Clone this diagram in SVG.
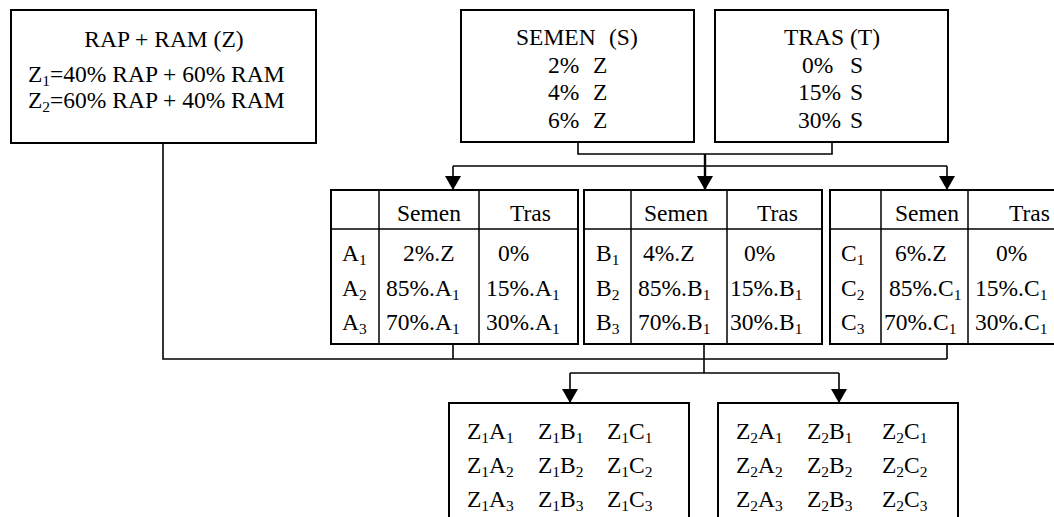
<svg xmlns="http://www.w3.org/2000/svg" width="1054" height="517" viewBox="0 0 1054 517">
<style>
  text { font-family: "Liberation Serif", "Times New Roman", serif; font-size: 23.5px; fill: #000; }
  .c { text-anchor: middle; }
  .sub { font-size: 15.5px; }
  .box { fill: #fff; stroke: #000; stroke-width: 2; }
  .in { stroke: #000; stroke-width: 1.5; fill: none; }
  .ln { stroke: #000; stroke-width: 1.6; fill: none; }
  .thick { stroke: #000; stroke-width: 2.4; fill: none; }
</style>
<defs>
  <marker id="arr" viewBox="0 0 14 16" refX="14" refY="8" markerWidth="14" markerHeight="16" markerUnits="userSpaceOnUse" orient="auto">
    <path d="M0,0 L14,8 L0,16 Z" fill="#000"/>
  </marker>
</defs>
<rect width="1054" height="517" fill="#fff"/>

<g id="connectors">
  <polyline class="ln" points="578,142 578,154 832,154 832,142"/>
  <line class="thick" x1="705" y1="154" x2="705" y2="190" marker-end="url(#arr)"/>
  <line class="ln" x1="453" y1="166" x2="947" y2="166"/>
  <line class="ln" x1="453" y1="166" x2="453" y2="190" marker-end="url(#arr)"/>
  <line class="ln" x1="947" y1="166" x2="947" y2="190" marker-end="url(#arr)"/>
  <polyline class="ln" points="163,143 163,359 947,359"/>
  <line class="ln" x1="453" y1="344" x2="453" y2="359"/>
  <line class="ln" x1="947" y1="344" x2="947" y2="359"/>
  <line class="ln" x1="704" y1="344" x2="704" y2="373"/>
  <line class="ln" x1="570" y1="373" x2="839" y2="373"/>
  <line class="ln" x1="570" y1="373" x2="570" y2="403" marker-end="url(#arr)"/>
  <line class="ln" x1="839" y1="373" x2="839" y2="403" marker-end="url(#arr)"/>
</g>

<g id="node-z">
  <rect class="box" x="11" y="10" width="305" height="133"/>
  <text class="c" x="164" y="47">RAP + RAM (Z)</text>
  <text x="28" y="82">Z<tspan class="sub" dy="4">1</tspan><tspan dy="-4">=40% RAP + 60% RAM</tspan></text>
  <text x="28" y="108">Z<tspan class="sub" dy="4">2</tspan><tspan dy="-4">=60% RAP + 40% RAM</tspan></text>
</g>

<g id="node-semen">
  <rect class="box" x="461" y="10" width="233" height="132"/>
  <text x="516" y="45">SEMEN<tspan x="609">(S)</tspan></text>
  <text x="548" y="73">2%<tspan x="593">Z</tspan></text>
  <text x="548" y="100">4%<tspan x="593">Z</tspan></text>
  <text x="548" y="128">6%<tspan x="593">Z</tspan></text>
</g>

<g id="node-tras">
  <rect class="box" x="715" y="10" width="233" height="132"/>
  <text class="c" x="832" y="45">TRAS (T)</text>
  <text x="802" y="73">0%<tspan x="850">S</tspan></text>
  <text x="798" y="100">15%<tspan x="850">S</tspan></text>
  <text x="798" y="128">30%<tspan x="850">S</tspan></text>
</g>

<g id="table-a">
  <rect class="box" x="331" y="190" width="247" height="154"/>
  <line class="in" x1="331" y1="229" x2="578" y2="229"/>
  <line class="in" x1="379" y1="190" x2="379" y2="344"/>
  <line class="in" x1="479" y1="190" x2="479" y2="344"/>
  <text x="397" y="221">Semen</text>
  <text x="510" y="221">Tras</text>
  <text x="342" y="261">A<tspan class="sub" dy="4">1</tspan></text>
  <text x="342" y="296">A<tspan class="sub" dy="4">2</tspan></text>
  <text x="342" y="330">A<tspan class="sub" dy="4">3</tspan></text>
  <text x="403" y="261">2%.Z</text>
  <text x="386" y="296">85%.A<tspan class="sub" dy="4">1</tspan></text>
  <text x="386" y="330">70%.A<tspan class="sub" dy="4">1</tspan></text>
  <text x="498" y="261">0%</text>
  <text x="486" y="296">15%.A<tspan class="sub" dy="4">1</tspan></text>
  <text x="486" y="330">30%.A<tspan class="sub" dy="4">1</tspan></text>
</g>

<g id="table-b">
  <rect class="box" x="584" y="190" width="238" height="154"/>
  <line class="in" x1="584" y1="229" x2="822" y2="229"/>
  <line class="in" x1="631" y1="190" x2="631" y2="344"/>
  <line class="in" x1="727" y1="190" x2="727" y2="344"/>
  <text x="644" y="221">Semen</text>
  <text x="757" y="221">Tras</text>
  <text x="596" y="261">B<tspan class="sub" dy="4">1</tspan></text>
  <text x="596" y="296">B<tspan class="sub" dy="4">2</tspan></text>
  <text x="596" y="330">B<tspan class="sub" dy="4">3</tspan></text>
  <text x="643" y="261">4%.Z</text>
  <text x="638" y="296">85%.B<tspan class="sub" dy="4">1</tspan></text>
  <text x="638" y="330">70%.B<tspan class="sub" dy="4">1</tspan></text>
  <text x="744" y="261">0%</text>
  <text x="730" y="296">15%.B<tspan class="sub" dy="4">1</tspan></text>
  <text x="730" y="330">30%.B<tspan class="sub" dy="4">1</tspan></text>
</g>

<g id="table-c">
  <rect class="box" x="830" y="190" width="240" height="154"/>
  <line class="in" x1="830" y1="229" x2="1070" y2="229"/>
  <line class="in" x1="881" y1="190" x2="881" y2="344"/>
  <line class="in" x1="968" y1="190" x2="968" y2="344"/>
  <text x="895" y="221">Semen</text>
  <text x="1009" y="221">Tras</text>
  <text x="841" y="261">C<tspan class="sub" dy="4">1</tspan></text>
  <text x="841" y="296">C<tspan class="sub" dy="4">2</tspan></text>
  <text x="841" y="330">C<tspan class="sub" dy="4">3</tspan></text>
  <text x="895" y="261">6%.Z</text>
  <text x="889" y="296">85%.C<tspan class="sub" dy="4">1</tspan></text>
  <text x="884" y="330">70%.C<tspan class="sub" dy="4">1</tspan></text>
  <text x="996" y="261">0%</text>
  <text x="975" y="296">15%.C<tspan class="sub" dy="4">1</tspan></text>
  <text x="975" y="330">30%.C<tspan class="sub" dy="4">1</tspan></text>
</g>

<g id="node-z1">
  <rect class="box" x="449" y="403" width="240" height="130"/>
  <text x="467" y="439">Z<tspan class="sub" dy="4">1</tspan><tspan dy="-4">A</tspan><tspan class="sub" dy="4">1</tspan></text>
  <text x="467" y="473">Z<tspan class="sub" dy="4">1</tspan><tspan dy="-4">A</tspan><tspan class="sub" dy="4">2</tspan></text>
  <text x="467" y="507">Z<tspan class="sub" dy="4">1</tspan><tspan dy="-4">A</tspan><tspan class="sub" dy="4">3</tspan></text>
  <text x="538" y="439">Z<tspan class="sub" dy="4">1</tspan><tspan dy="-4">B</tspan><tspan class="sub" dy="4">1</tspan></text>
  <text x="538" y="473">Z<tspan class="sub" dy="4">1</tspan><tspan dy="-4">B</tspan><tspan class="sub" dy="4">2</tspan></text>
  <text x="538" y="507">Z<tspan class="sub" dy="4">1</tspan><tspan dy="-4">B</tspan><tspan class="sub" dy="4">3</tspan></text>
  <text x="607" y="439">Z<tspan class="sub" dy="4">1</tspan><tspan dy="-4">C</tspan><tspan class="sub" dy="4">1</tspan></text>
  <text x="607" y="473">Z<tspan class="sub" dy="4">1</tspan><tspan dy="-4">C</tspan><tspan class="sub" dy="4">2</tspan></text>
  <text x="607" y="507">Z<tspan class="sub" dy="4">1</tspan><tspan dy="-4">C</tspan><tspan class="sub" dy="4">3</tspan></text>
</g>

<g id="node-z2">
  <rect class="box" x="718" y="403" width="240" height="130"/>
  <text x="736" y="439">Z<tspan class="sub" dy="4">2</tspan><tspan dy="-4">A</tspan><tspan class="sub" dy="4">1</tspan></text>
  <text x="736" y="473">Z<tspan class="sub" dy="4">2</tspan><tspan dy="-4">A</tspan><tspan class="sub" dy="4">2</tspan></text>
  <text x="736" y="507">Z<tspan class="sub" dy="4">2</tspan><tspan dy="-4">A</tspan><tspan class="sub" dy="4">3</tspan></text>
  <text x="807" y="439">Z<tspan class="sub" dy="4">2</tspan><tspan dy="-4">B</tspan><tspan class="sub" dy="4">1</tspan></text>
  <text x="807" y="473">Z<tspan class="sub" dy="4">2</tspan><tspan dy="-4">B</tspan><tspan class="sub" dy="4">2</tspan></text>
  <text x="807" y="507">Z<tspan class="sub" dy="4">2</tspan><tspan dy="-4">B</tspan><tspan class="sub" dy="4">3</tspan></text>
  <text x="882" y="439">Z<tspan class="sub" dy="4">2</tspan><tspan dy="-4">C</tspan><tspan class="sub" dy="4">1</tspan></text>
  <text x="882" y="473">Z<tspan class="sub" dy="4">2</tspan><tspan dy="-4">C</tspan><tspan class="sub" dy="4">2</tspan></text>
  <text x="882" y="507">Z<tspan class="sub" dy="4">2</tspan><tspan dy="-4">C</tspan><tspan class="sub" dy="4">3</tspan></text>
</g>
</svg>
